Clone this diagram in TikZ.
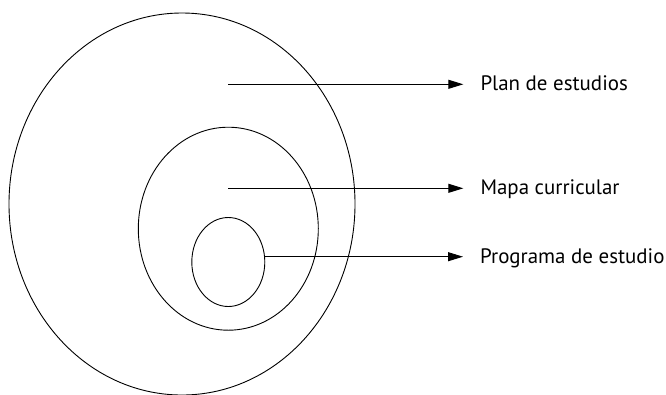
\documentclass[tikz,border=0pt]{standalone}
\usepackage{fontspec}
\setmainfont{PT Sans}
\usetikzlibrary{shapes.geometric,arrows.meta,positioning}

\begin{document}
\begin{tikzpicture}[x=1bp,y=-1bp,
    ring/.style={draw,ellipse,line width=0.9bp,inner sep=0pt},
    lbl/.style={inner sep=0pt,text height=15bp,text depth=2bp,font=\fontsize{21}{25}\selectfont},
    pointer/.style={-{Triangle[length=15bp,width=9bp]},line width=0.9bp}]
    %\draw[lightgray] (0,0) grid[step=50] (666,394);
    \useasboundingbox (0,0) rectangle (666,394);
    \node[ring,minimum width=346bp,minimum height=382bp] (plan) at (182,204) {};
    \node[ring,minimum width=180bp,minimum height=203bp] (mapa) at (228.3,228.7) {};
    \node[ring,minimum width=73bp,minimum height=89bp] (prog) at (228.3,262) {};
    % labels
    \coordinate (plansrc) at (228.3,84.3);
    \coordinate (mapasrc) at (228.3,188.3);
    \node[lbl,right=252bp of plansrc] (planlbl) {Plan de estudios};
    \node[lbl,right=252bp of mapasrc] (mapalbl) {Mapa curricular};
    \node[lbl,anchor=west] (proglbl) at (480,256.7) {Programa de estudio};
    \draw[pointer] (plansrc) -- ([xshift=-17bp]planlbl.west);
    \draw[pointer] (mapasrc) -- ([xshift=-17bp]mapalbl.west);
    \draw[pointer] (prog.east |- proglbl.west) -- ([xshift=-17bp]proglbl.west);
\end{tikzpicture}
\end{document}
